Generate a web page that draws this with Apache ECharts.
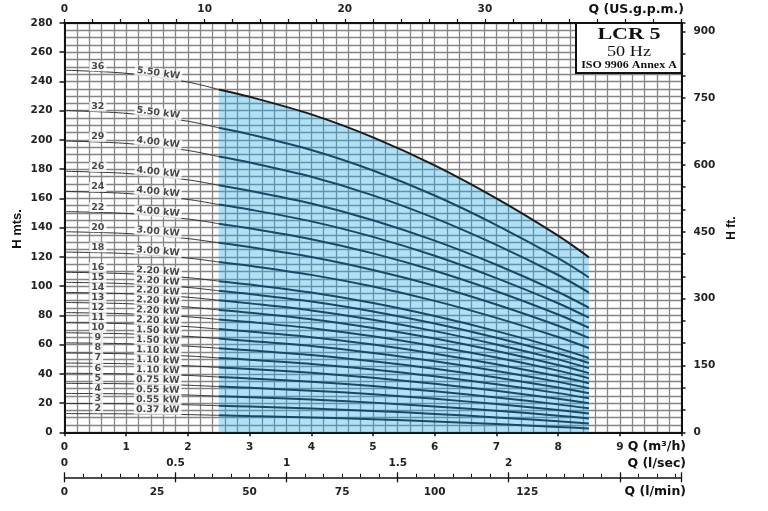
<!DOCTYPE html>
<html><head><meta charset="utf-8">
<script src="https://cdn.jsdelivr.net/npm/echarts@6.0.0/dist/echarts.min.js"></script>
<style>html,body{margin:0;padding:0;background:#fff}#c{width:768px;height:511px}</style>
</head><body><div id="c"></div>
<script>
// Flow points (m3/h) at which each curve was read
const Q = [0, 1, 2, 2.5, 3, 4, 5, 6, 7, 8, 8.5];
// Stage counts and motor powers
const stages = [36, 32, 29, 26, 24, 22, 20, 18, 16, 15, 14, 13, 12, 11, 10, 9, 8, 7, 6, 5, 4, 3, 2];
const powers = ['5.50','5.50','4.00','4.00','4.00','4.00','3.00','3.00','2.20','2.20','2.20','2.20','2.20','2.20','1.50','1.50','1.10','1.10','1.10','0.75','0.55','0.55','0.37'];
// Head (m) per curve
const H36 = [247.7, 245.6, 239.6, 234.5, 229.5, 217.5, 201.8, 182.6, 160.0, 134.5, 119.7];
const H32 = [220.1, 218.2, 212.8, 208.3, 203.8, 193.1, 179.1, 162.0, 141.8, 119.1, 105.9];
const H29 = [199.3, 197.6, 192.8, 188.6, 184.5, 174.8, 162.1, 146.5, 128.2, 107.6, 95.6];
const H26 = [178.6, 177.1, 172.7, 169.0, 165.3, 156.5, 145.1, 131.1, 114.6, 96.0, 85.2];
const H24 = [164.8, 163.4, 159.3, 155.8, 152.4, 144.3, 133.7, 120.8, 105.5, 88.3, 78.4];
const H22 = [151.0, 149.7, 145.9, 142.7, 139.6, 132.1, 122.4, 110.5, 96.5, 80.6, 71.5];
const H20 = [137.2, 136.0, 132.5, 129.6, 126.7, 119.9, 111.0, 100.2, 87.4, 72.9, 64.6];
const H18 = [123.3, 122.3, 119.2, 116.5, 113.9, 107.7, 99.7, 89.9, 78.3, 65.2, 57.7];
const H16 = [109.5, 108.5, 105.8, 103.4, 101.1, 95.6, 88.4, 79.5, 69.2, 57.6, 50.8];
const H15 = [102.6, 101.7, 99.1, 96.8, 94.6, 89.5, 82.7, 74.4, 64.7, 53.7, 47.4];
const H14 = [95.7, 94.8, 92.4, 90.3, 88.2, 83.4, 77.0, 69.2, 60.1, 49.9, 43.9];
const H13 = [88.8, 88.0, 85.7, 83.7, 81.8, 77.3, 71.3, 64.1, 55.6, 46.0, 40.5];
const H12 = [81.9, 81.1, 79.0, 77.2, 75.4, 71.2, 65.7, 58.9, 51.1, 42.2, 37.0];
const H11 = [75.0, 74.3, 72.3, 70.6, 68.9, 65.1, 60.0, 53.8, 46.5, 38.3, 33.6];
const H10 = [68.1, 67.4, 65.6, 64.1, 62.5, 59.0, 54.3, 48.6, 42.0, 34.5, 30.1];
const H9  = [61.2, 60.6, 58.9, 57.5, 56.1, 52.9, 48.6, 43.5, 37.5, 30.6, 26.7];
const H8  = [54.3, 53.7, 52.2, 50.9, 49.7, 46.8, 43.0, 38.3, 32.9, 26.8, 23.3];
const H7  = [47.4, 46.9, 45.5, 44.4, 43.3, 40.7, 37.3, 33.2, 28.4, 22.9, 19.8];
const H6  = [40.4, 40.0, 38.9, 37.8, 36.8, 34.6, 31.6, 28.0, 23.8, 19.1, 16.4];
const H5  = [33.5, 33.2, 32.2, 31.3, 30.4, 28.5, 26.0, 22.9, 19.3, 15.2, 12.9];
const H4  = [26.6, 26.3, 25.5, 24.7, 24.0, 22.4, 20.3, 17.7, 14.8, 11.4, 9.5];
const H3  = [19.7, 19.5, 18.8, 18.2, 17.6, 16.3, 14.6, 12.6, 10.2, 7.5, 6.0];
const H2  = [12.8, 12.6, 12.1, 11.6, 11.1, 10.2, 8.9, 7.4, 5.7, 3.7, 2.6];
const curves = [H36,H32,H29,H26,H24,H22,H20,H18,H16,H15,H14,H13,H12,H11,H10,H9,H8,H7,H6,H5,H4,H3,H2];
// Axis texts
const titleLines = ['LCR 5', '50 Hz', 'ISO 9906 Annex A'];
const axisNames = { hm: 'H mts.', hft: 'H ft.', qm3: 'Q (m³/h)', qls: 'Q (l/sec)', qlm: 'Q (l/min)', gpm: 'Q (US.g.p.m.)' };

const SANS = '"DejaVu Sans", sans-serif';
const ARIAL = '"Liberation Sans", Arial, sans-serif';
const SERIF = '"Liberation Serif", "Times New Roman", serif';
const gridCol = '#858585';
const Qmax = 10, Hmax = 280;
const pxPerQ = (768 - 64.5 - 86.5) / Qmax;
const pxPerM = (511 - 23 - 78.7) / Hmax;

const chart = echarts.init(document.getElementById('c'), null, {renderer: 'canvas'});

const series = [];
curves.forEach((H, i) => {
  const pts = Q.map((q, j) => [q, H[j]]);
  series.push({
    type: 'line', data: pts.slice(0, 4), smooth: 0.3, symbol: 'none', silent: true, z: 3,
    lineStyle: {color: '#333', width: 1}
  });
  const s = {
    type: 'line', data: pts.slice(3), smooth: 0.3, symbol: 'none', silent: true, z: 3,
    lineStyle: {color: i === 0 ? '#1c1c1c' : '#174a68', width: 2}
  };
  if (i === 0) s.areaStyle = {color: 'rgba(40,172,232,0.52)'};
  series.push(s);
});

const labelData = [];
curves.forEach((H, i) => {
  const hs = H[0] + 0.54 * (H[1] - H[0]);
  labelData.push({value: [0.54, hs], label: {formatter: String(stages[i]), offset: [0, -5.5]}});
  const hk = H[1] + 0.51 * (H[2] - H[1]);
  const ang = Math.atan((H[1] - H[2]) * pxPerM / pxPerQ) * 180 / Math.PI;
  labelData.push({value: [1.51, hk], label: {formatter: powers[i] + ' kW', rotate: -ang, offset: [0, -4.5]}});
});
series.push({
  type: 'scatter', data: labelData, symbol: 'circle', symbolSize: 1, silent: true, z: 6,
  itemStyle: {color: 'rgba(0,0,0,0)'},
  label: {show: true, position: 'inside', color: '#1a1a1a', fontSize: 9.5, fontWeight: 'bold',
    fontFamily: SANS, backgroundColor: '#fff', padding: [0, 2, 0, 2], lineHeight: 10}
});

const labelStyle = {color: '#222', fontSize: 10.5, fontWeight: 'bold', fontFamily: SANS};
const blackLine = {show: true, onZero: false, lineStyle: {color: '#111', width: 2}};

const option = {
  animation: false,
  backgroundColor: '#fff',
  grid: {left: 64.5, right: 86.5, top: 23, bottom: 78.7, containLabel: false, outerBoundsMode: 'none'},
  xAxis: [
    { // m3/h
      type: 'value', position: 'bottom', min: 0, max: Qmax, interval: 1,
      axisLine: blackLine, axisTick: {show: true, length: 4, lineStyle: {color: '#111', width: 1.5}},
      axisLabel: Object.assign({margin: 9, formatter: v => (v < 9.5 ? String(v) : '')}, labelStyle),
      splitLine: {show: true, lineStyle: {color: gridCol, width: 1.3}},
      minorTick: {show: true, splitNumber: 5, length: 0},
      minorSplitLine: {show: true, lineStyle: {color: gridCol, width: 1.3}}
    },
    { // l/sec
      type: 'value', position: 'bottom', offset: 45, min: 0, max: Qmax / 3.6, interval: 0.5,
      axisLine: {show: true, onZero: false, lineStyle: {color: '#111', width: 1.5}},
      axisTick: {show: true, length: 5, lineStyle: {color: '#111', width: 1.3}},
      axisLabel: Object.assign({inside: true, margin: 9, formatter: v => (v < 2.25 ? String(v) : '')}, labelStyle),
      splitLine: {show: false}
    },
    { // l/min
      type: 'value', position: 'bottom', offset: 45, min: 0, max: Qmax * 1000 / 60, interval: 5,
      axisLine: {show: false, onZero: false},
      axisTick: {show: true, inside: true, length: 3.5, lineStyle: {color: '#111', width: 1}},
      axisLabel: Object.assign({margin: 9, formatter: v => (Math.abs(v % 25) < 1e-6 && v < 140 ? String(Math.round(v)) : '')}, labelStyle),
      splitLine: {show: false}
    },
    { // l/sec inner tall ticks
      type: 'value', position: 'bottom', offset: 45, min: 0, max: Qmax / 3.6, interval: 0.5,
      axisLine: {show: false, onZero: false},
      axisTick: {show: true, inside: true, length: 5, lineStyle: {color: '#111', width: 1.3}},
      axisLabel: {show: false}, splitLine: {show: false}
    },
    { // US gpm
      type: 'value', position: 'top', min: 0, max: Qmax * 4.40287, interval: 2,
      axisLine: blackLine, axisTick: {show: true, length: 4, lineStyle: {color: '#111', width: 1.2}},
      axisLabel: Object.assign({margin: 8, formatter: v => (v % 10 === 0 && v < 35 ? String(v) : '')}, labelStyle),
      splitLine: {show: false}
    }
  ],
  yAxis: [
    {
      type: 'value', position: 'left', min: 0, max: Hmax, interval: 20,
      axisLine: blackLine, axisTick: {show: true, length: 5, lineStyle: {color: '#111', width: 1.5}},
      axisLabel: Object.assign({margin: 12}, labelStyle),
      splitLine: {show: true, lineStyle: {color: gridCol, width: 1.3}},
      minorTick: {show: true, splitNumber: 4, length: 0},
      minorSplitLine: {show: true, lineStyle: {color: gridCol, width: 1.3}}
    },
    {
      type: 'value', position: 'right', min: 0, max: Hmax / 0.3048, interval: 50,
      axisLine: blackLine, axisTick: {show: true, length: 4, lineStyle: {color: '#111', width: 1.5}},
      axisLabel: Object.assign({margin: 12, formatter: v => (v % 150 === 0 ? String(v) : '')}, labelStyle),
      splitLine: {show: false}
    }
  ],
  series: series,
  graphic: [
    {type: 'text', x: 17, y: 229, rotation: Math.PI / 2, z: 20,
      style: {text: axisNames.hm, font: 'bold 13px ' + ARIAL, fill: '#111', textAlign: 'center', textVerticalAlign: 'middle', align: 'center', verticalAlign: 'middle'}},
    {type: 'text', x: 732, y: 228, rotation: Math.PI / 2, z: 20,
      style: {text: axisNames.hft, font: 'bold 12px ' + ARIAL, fill: '#111', textAlign: 'center', textVerticalAlign: 'middle', align: 'center', verticalAlign: 'middle'}},
    {type: 'text', x: 684, y: 10, z: 20,
      style: {text: axisNames.gpm, font: 'bold 12.5px ' + SANS, fill: '#111', textAlign: 'right', textVerticalAlign: 'middle', align: 'right', verticalAlign: 'middle'}},
    {type: 'text', x: 686, y: 447, z: 20,
      style: {text: axisNames.qm3, font: 'bold 12.5px ' + SANS, fill: '#111', textAlign: 'right', textVerticalAlign: 'middle', align: 'right', verticalAlign: 'middle'}},
    {type: 'text', x: 686, y: 464, z: 20,
      style: {text: axisNames.qls, font: 'bold 12.5px ' + SANS, fill: '#111', textAlign: 'right', textVerticalAlign: 'middle', align: 'right', verticalAlign: 'middle'}},
    {type: 'text', x: 686, y: 492, z: 20,
      style: {text: axisNames.qlm, font: 'bold 12.5px ' + SANS, fill: '#111', textAlign: 'right', textVerticalAlign: 'middle', align: 'right', verticalAlign: 'middle'}},
    {type: 'rect', x: 576, y: 23, z: 20, shape: {width: 105.5, height: 50},
      style: {fill: '#fff', stroke: '#111', lineWidth: 2}},
    {type: 'text', x: 629, y: 35, scaleX: 1.3, z: 21,
      style: {text: titleLines[0], font: 'bold 17px ' + SERIF, fill: '#111', textAlign: 'center', textVerticalAlign: 'middle', align: 'center', verticalAlign: 'middle'}},
    {type: 'text', x: 629, y: 52.5, scaleX: 1.3, z: 21,
      style: {text: titleLines[1], font: '14px ' + SERIF, fill: '#111', textAlign: 'center', textVerticalAlign: 'middle', align: 'center', verticalAlign: 'middle'}},
    {type: 'text', x: 629, y: 65, scaleX: 1.2, z: 21,
      style: {text: titleLines[2], font: 'bold 10px ' + SERIF, fill: '#111', textAlign: 'center', textVerticalAlign: 'middle', align: 'center', verticalAlign: 'middle'}}
  ]
};
chart.setOption(option);
</script></body></html>
